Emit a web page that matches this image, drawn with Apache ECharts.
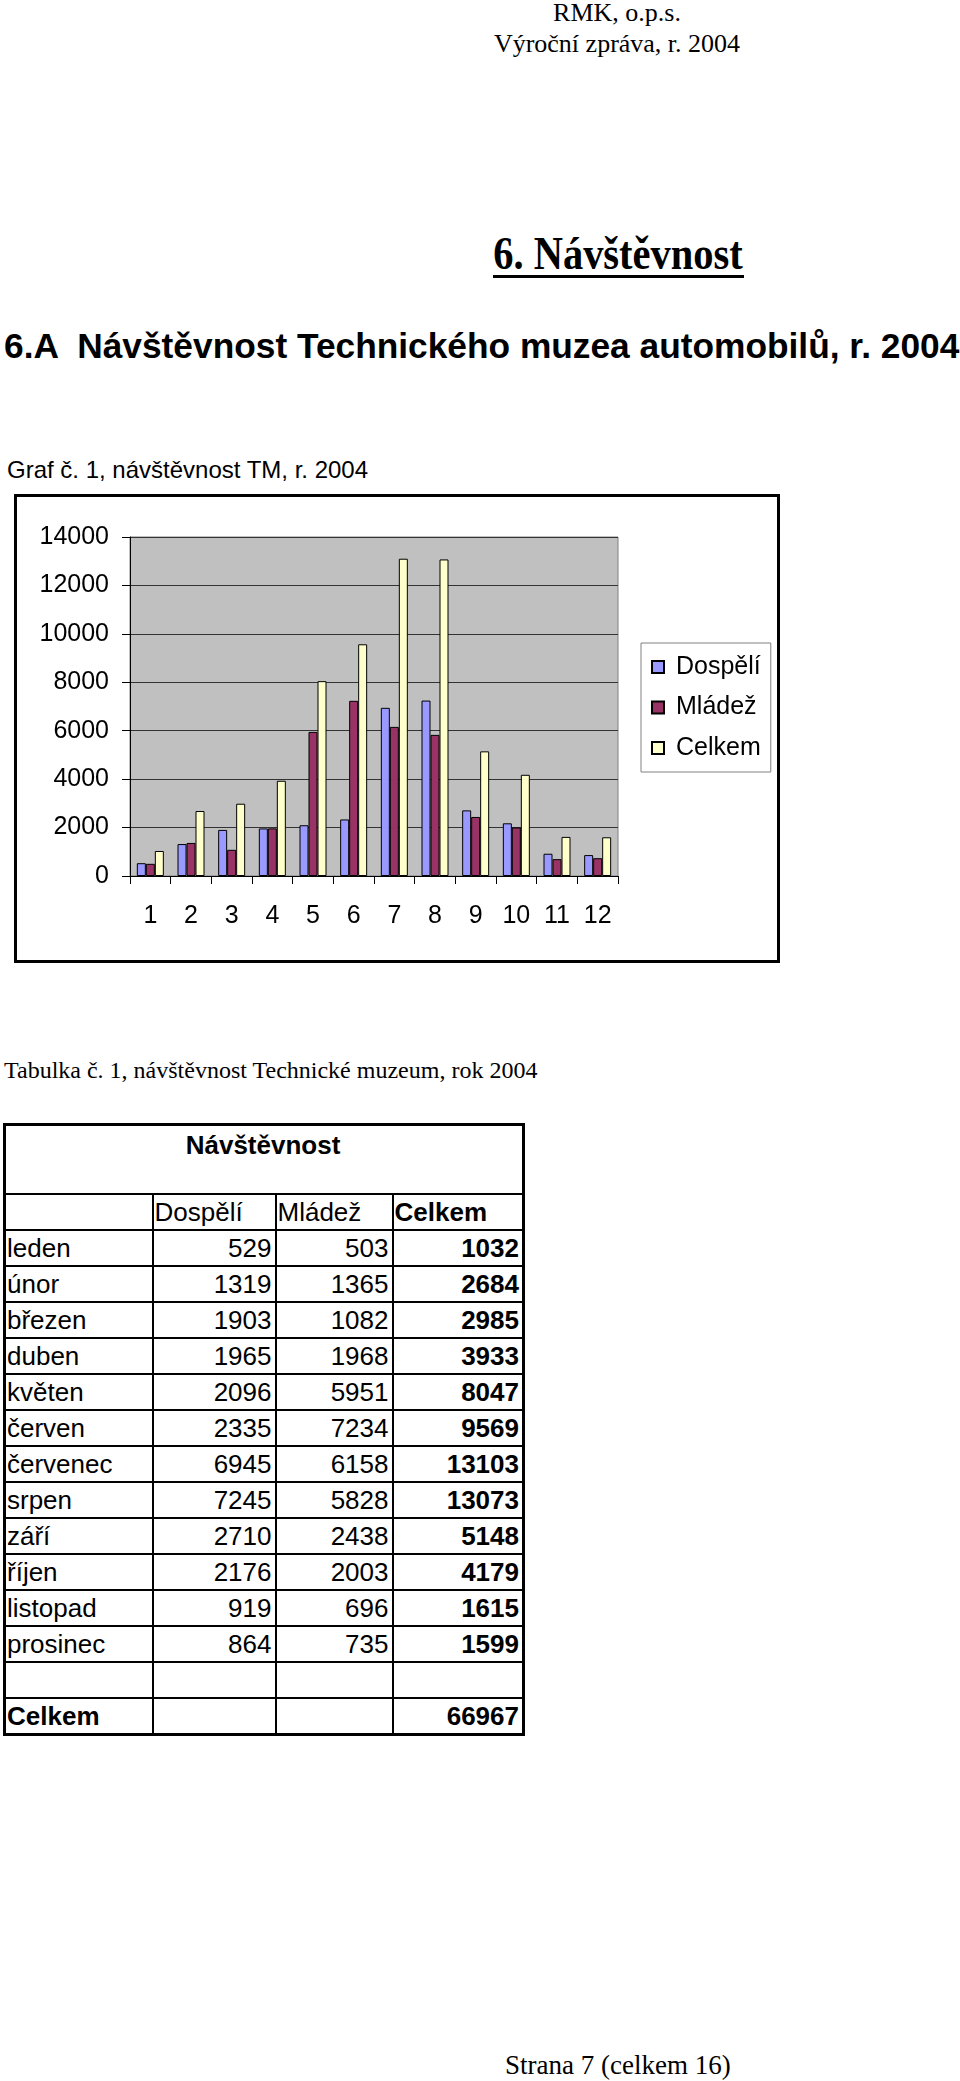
<!DOCTYPE html>
<html><head><meta charset="utf-8">
<script src="https://cdn.jsdelivr.net/npm/echarts@6/dist/echarts.min.js"></script>
<style>
html,body{margin:0;padding:0;background:#fff}
body{width:960px;height:2081px;position:relative;overflow:hidden;color:#000}
.t{position:absolute;white-space:pre;line-height:1;margin:0}
.serif{font-family:"Liberation Serif","Times New Roman",serif}
.sans{font-family:"Liberation Sans",Arial,sans-serif}
#chart{position:absolute;left:14px;top:494px;width:766px;height:469px;border:3px solid #000;box-sizing:border-box;background:#fff}
#tbl{position:absolute;left:3px;top:1123px;border-collapse:collapse;table-layout:fixed;font-family:"Liberation Sans",Arial,sans-serif;font-size:26px;border:3px solid #000;width:519px}
#tbl td{border:2px solid #000;padding:0 3px 0 1px;height:34px;line-height:34px;white-space:nowrap;overflow:hidden}
#tbl td.head{height:69px;vertical-align:top;text-align:center;font-weight:bold;line-height:36px;padding-top:1px;box-sizing:border-box}
#tbl td.r{text-align:right}
#tbl td.b{font-weight:bold}
</style></head>
<body>
<div class="t serif" style="left:417px;width:400px;text-align:center;top:0px;font-size:26px">RMK, o.p.s.</div>
<div class="t serif" style="left:417px;width:400px;text-align:center;top:31px;font-size:26px">Výroční zpráva, r. 2004</div>
<div class="t serif" style="left:368px;width:500px;text-align:center;top:231px;font-size:46px;font-weight:bold;transform:scaleX(0.88);transform-origin:250px 0">6. Návštěvnost</div>
<div style="position:absolute;left:493px;top:275px;width:251px;height:3px;background:#000"></div>
<div class="t sans" style="left:4px;top:328px;font-size:35.3px;font-weight:bold">6.A  Návštěvnost Technického muzea automobilů, r. 2004</div>
<div class="t sans" style="left:7px;top:458px;font-size:24px">Graf č. 1, návštěvnost TM, r. 2004</div>
<div id="chart"></div>
<div class="t serif" style="left:4px;top:1058px;font-size:24px">Tabulka č. 1, návštěvnost Technické muzeum, rok 2004</div>
<table id="tbl"></table>
<div class="t serif" style="left:505px;top:2052px;font-size:27px">Strana 7 (celkem 16)</div>
<script>
// ---- data ----
const categories = ['1','2','3','4','5','6','7','8','9','10','11','12'];
const monthNames = ['leden','únor','březen','duben','květen','červen','červenec','srpen','září','říjen','listopad','prosinec'];
const seriesNames = ['Dospělí','Mládež','Celkem'];
const dospeli = [529,1319,1903,1965,2096,2335,6945,7245,2710,2176,919,864];
const mladez  = [503,1365,1082,1968,5951,7234,6158,5828,2438,2003,696,735];
const celkem  = [1032,2684,2985,3933,8047,9569,13103,13073,5148,4179,1615,1599];
const celkemTotal = 66967;
const tableTitle = 'Návštěvnost';
const totalLabel = 'Celkem';
const yMin = 0, yMax = 14000, yInterval = 2000;

// ---- table ----
let h = '<colgroup><col style="width:148px"><col style="width:123px"><col style="width:117px"><col style="width:131px"></colgroup>';
h += '<tr><td colspan="4" class="head">' + tableTitle + '</td></tr>';
h += '<tr><td></td><td>' + seriesNames[0] + '</td><td>' + seriesNames[1] + '</td><td class="b">' + seriesNames[2] + '</td></tr>';
monthNames.forEach((m, i) => {
  h += '<tr><td>' + m + '</td><td class="r">' + dospeli[i] + '</td><td class="r">' + mladez[i] + '</td><td class="r b">' + celkem[i] + '</td></tr>';
});
h += '<tr><td></td><td></td><td></td><td></td></tr>';
h += '<tr><td class="b">' + totalLabel + '</td><td></td><td></td><td class="r b">' + celkemTotal + '</td></tr>';
document.getElementById('tbl').innerHTML = h;

// ---- chart ----
const font = '"Liberation Sans", Arial, sans-serif';
const colors = ['#9999FF', '#993366', '#FFFFCC'];
const chart = echarts.init(document.getElementById('chart'), null, {renderer: 'canvas'});
const mk = (name, data, c) => ({
  name, type: 'bar', data, barWidth: 9, barGap: '0%',
  itemStyle: {color: c, borderColor: '#000', borderWidth: 1},
  emphasis: {disabled: true}
});
chart.setOption({
  animation: false,
  backgroundColor: '#fff',
  grid: {left: 113, top: 40, width: 488, height: 339, show: true, backgroundColor: '#c0c0c0',
         borderColor: '#808080', borderWidth: 1, containLabel: false, outerBoundsMode: 'none'},
  legend: {
    orient: 'vertical', left: 624, top: 146, icon: 'rect', itemWidth: 12, itemHeight: 12,
    itemGap: 15.5, padding: [11.5, 10, 11.5, 10], backgroundColor: '#fff',
    borderColor: '#808080', borderWidth: 1, borderRadius: 0, selectedMode: false,
    textStyle: {fontFamily: font, fontSize: 25, color: '#000', padding: [0, 0, 0, 7]},
    data: seriesNames
  },
  xAxis: {
    type: 'category', data: categories, boundaryGap: true,
    axisLine: {show: true, lineStyle: {color: '#000', width: 1}},
    axisTick: {show: true, length: 8, lineStyle: {color: '#000'}},
    axisLabel: {fontFamily: font, fontSize: 25, color: '#000', margin: 28, interval: 0},
    splitLine: {show: false}
  },
  yAxis: {
    type: 'value', min: yMin, max: yMax, interval: yInterval,
    axisLine: {show: true, lineStyle: {color: '#000', width: 1}},
    axisTick: {show: true, length: 8, lineStyle: {color: '#000'}},
    axisLabel: {fontFamily: font, fontSize: 25, color: '#000', margin: 21, formatter: v => String(v)},
    splitLine: {show: true, lineStyle: {color: '#333', width: 1}}
  },
  series: [mk(seriesNames[0], dospeli, colors[0]), mk(seriesNames[1], mladez, colors[1]), mk(seriesNames[2], celkem, colors[2])]
});
</script>
</body></html>
